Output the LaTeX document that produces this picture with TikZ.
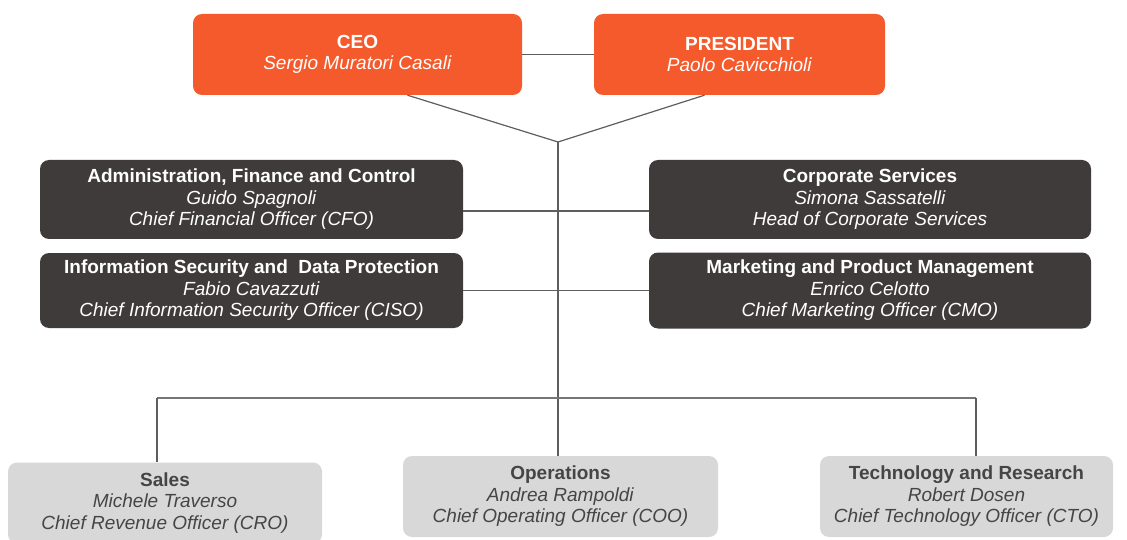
\documentclass[tikz,border=0pt]{standalone}
\usepackage{fontspec}
\setmainfont{Liberation Sans}
\usepackage{tikz}
\usetikzlibrary{positioning}
\definecolor{ceoorange}{HTML}{F55A2C}
\definecolor{staffgray}{HTML}{3F3B3A}
\definecolor{linegray}{HTML}{D8D8D8}
\definecolor{linetext}{HTML}{454545}
\definecolor{conngray}{HTML}{5E5E5E}

\begin{document}
\begin{tikzpicture}[x=1pt,y=-1pt,
        every node/.style={align=center,inner sep=2pt,font=\fontsize{19}{21.5}\selectfont},
        topbox/.style={fill=ceoorange,text=white,rounded corners=9pt,minimum height=81},
        staffbox/.style={fill=staffgray,text=white,rounded corners=9pt,minimum width=423},
        linebox/.style={fill=linegray,text=linetext,rounded corners=9pt,minimum height=81},
        conn/.style={draw=conngray,line width=1.2pt},
        bus/.style={draw=conngray!85,line width=2pt}]
        \useasboundingbox (0,0) rectangle (1127,540);
        % top management
        \node[topbox,minimum width=329] (ceo) at (357.5,54.5) {\textbf{CEO}\\\textit{Sergio Muratori Casali}};
        \node[topbox,minimum width=291] (pres) at (739.5,54.5) {\textbf{PRESIDENT}\\\textit{Paolo Cavicchioli}};
        % staff functions
        \node[staffbox,minimum height=79] (afc) at (251.5,199.5) {\textbf{Administration, Finance and Control}\\\textit{Guido Spagnoli}\\\textit{Chief Financial Officer (CFO)}};
        \node[staffbox,minimum height=75] (isdp) at (251.5,290.5) {\textbf{Information Security and\ \ Data Protection}\\\textit{Fabio Cavazzuti}\\\textit{Chief Information Security Officer (CISO)}};
        \node[staffbox,minimum width=442,minimum height=79] (corp) at (870,199.5) {\textbf{Corporate Services}\\\textit{Simona Sassatelli}\\\textit{Head of Corporate Services}};
        \node[staffbox,minimum width=442,minimum height=76] (mpm) at (870,290.5) {\textbf{Marketing and Product Management}\\\textit{Enrico Celotto}\\\textit{Chief Marketing Officer (CMO)}};
        % line functions
        \node[linebox,minimum width=314] (sales) at (165,503) {\textbf{Sales}\\\textit{Michele Traverso}\\\textit{Chief Revenue Officer (CRO)}};
        \node[linebox,minimum width=315] (ops) at (560.5,496.5) {\textbf{Operations}\\\textit{Andrea Rampoldi}\\\textit{Chief Operating Officer (COO)}};
        \node[linebox,minimum width=293] (tr) at (966.5,496.5) {\textbf{Technology and Research}\\\textit{Robert Dosen}\\\textit{Chief Technology Officer (CTO)}};
        \coordinate (j) at (558,142);
        \coordinate (bl) at (157,398);
        \coordinate (br) at (976,398);
        \draw[conn] (ceo) -- (pres);
        \draw[conn] ([xshift=50pt]ceo.south) -- (j);
        \draw[conn] ([xshift=-35pt]pres.south) -- (j);
        \draw[conn] (j) -- (j |- ops.north);
        \draw[conn] ([yshift=-11.5pt]afc.east) -- ([yshift=-11.5pt]corp.west);
        \draw[conn] (isdp.east) -- (mpm.west);
        \draw[bus] (bl) -- (br);
        \draw[conn] (bl) -- (bl |- sales.north);
        \draw[conn] (br) -- (br |- tr.north);
      \end{tikzpicture}
\end{document}
